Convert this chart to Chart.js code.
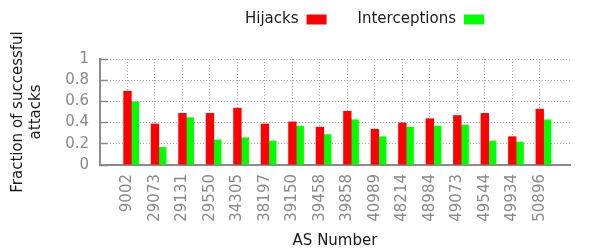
<!DOCTYPE html>
<html>
<head>
<meta charset="utf-8">
<script src="https://cdn.jsdelivr.net/npm/chart.js@4"></script>
<style>
  body { margin: 0; background: #fff; }
  #wrap { width: 598px; height: 249px; position: relative; }
</style>
</head>
<body>
<div id="wrap"><canvas id="attackChart"></canvas></div>
<script>
// --- data ---
const asNumbers = ['9002', '29073', '29131', '29550', '34305', '38197', '39150', '39458',
  '39858', '40989', '48214', '48984', '49073', '49544', '49934', '50896'];
const hijacks = [0.70, 0.39, 0.49, 0.49, 0.54, 0.39, 0.41, 0.36,
  0.51, 0.34, 0.40, 0.44, 0.47, 0.49, 0.27, 0.53];
const interceptions = [0.60, 0.17, 0.45, 0.24, 0.26, 0.23, 0.37, 0.29,
  0.43, 0.27, 0.36, 0.37, 0.38, 0.23, 0.22, 0.43];
const yTicks = [0, 0.2, 0.4, 0.6, 0.8, 1];

const FONT = 'DejaVu Sans';
const GRAY = '#8a8a8a';
const GRID = '#a8a8a8';

const toPoints = (arr) => arr.map((v, i) => ({ x: i, y: v }));

// bar sizing shared by all slots (gnuplot leaves an empty slot before each cluster)
const barOpts = { barPercentage: 1.14, categoryPercentage: 0.8 };

// legend drawn gnuplot-style: text first, then the colour box
const textFirstLegend = {
  id: 'textFirstLegend',
  afterDraw(chart) {
    const c = chart.ctx;
    c.save();
    c.font = '15px ' + FONT;
    c.textBaseline = 'middle';
    let x = 245;
    const y = 19.5;
    chart.data.datasets.filter(ds => ds.label).forEach(ds => {
      c.fillStyle = '#1a1a1a';
      c.fillText(ds.label, x, y);
      x += c.measureText(ds.label).width + 8;
      c.fillStyle = ds.backgroundColor;
      c.fillRect(x, y - 5, 20, 10);
      x += 20 + 31;
    });
    c.restore();
  }
};

new Chart(document.getElementById('attackChart'), {
  type: 'bar',
  data: {
    datasets: [
      { data: [], backgroundColor: 'rgba(0,0,0,0)', ...barOpts },
      { label: 'Hijacks', data: toPoints(hijacks), backgroundColor: '#ff0000', ...barOpts },
      { label: 'Interceptions', data: toPoints(interceptions), backgroundColor: '#00ff00', ...barOpts }
    ]
  },
  options: {
    responsive: true,
    maintainAspectRatio: false,
    animation: false,
    layout: { padding: { top: 59, right: 28, bottom: 0, left: 0 } },
    plugins: {
      legend: { display: false },
      tooltip: { enabled: false }
    },
    scales: {
      x: {
        type: 'linear',
        min: -1,
        max: 16.1,
        offset: false,
        afterBuildTicks: (scale) => {
          scale.ticks = asNumbers.map((_, i) => ({ value: i }));
        },
        afterFit: (scale) => { scale.height = 84; },
        grid: {
          offset: false,
          color: GRID,
          lineWidth: 1,
          drawTicks: false,
        },
        border: { color: GRAY, width: 2, dash: [1, 2] },
        ticks: {
          autoSkip: false,
          minRotation: 90,
          maxRotation: 90,
          padding: 9,
          color: GRAY,
          font: { family: FONT, size: 15 },
          callback: (value) => asNumbers[value] ?? ''
        },
        title: {
          display: true,
          text: 'AS Number',
          color: '#1a1a1a',
          font: { family: FONT, size: 15, lineHeight: 1 },
          padding: { top: 0, bottom: 0 }
        }
      },
      y: {
        min: 0,
        max: 1,
        afterBuildTicks: (scale) => {
          scale.ticks = yTicks.map(v => ({ value: v }));
        },
        afterFit: (scale) => { scale.width = 100; },
        grid: {
          color: GRID,
          lineWidth: 1,
          drawTicks: true,
          tickLength: -8,
          tickColor: GRAY,
          tickWidth: 1.5,
          tickBorderDash: [],
        },
        border: { color: GRAY, width: 2, dash: [1, 2] },
        ticks: {
          padding: 19,
          color: GRAY,
          font: { family: FONT, size: 15 },
          callback: (value) => String(value)
        },
        title: {
          display: true,
          text: ['Fraction of successful', 'attacks'],
          color: '#1a1a1a',
          font: { family: FONT, size: 15, lineHeight: 1.2 },
          padding: { top: 9, bottom: 0 }
        }
      }
    }
  },
  plugins: [textFirstLegend]
});
</script>
</body>
</html>
